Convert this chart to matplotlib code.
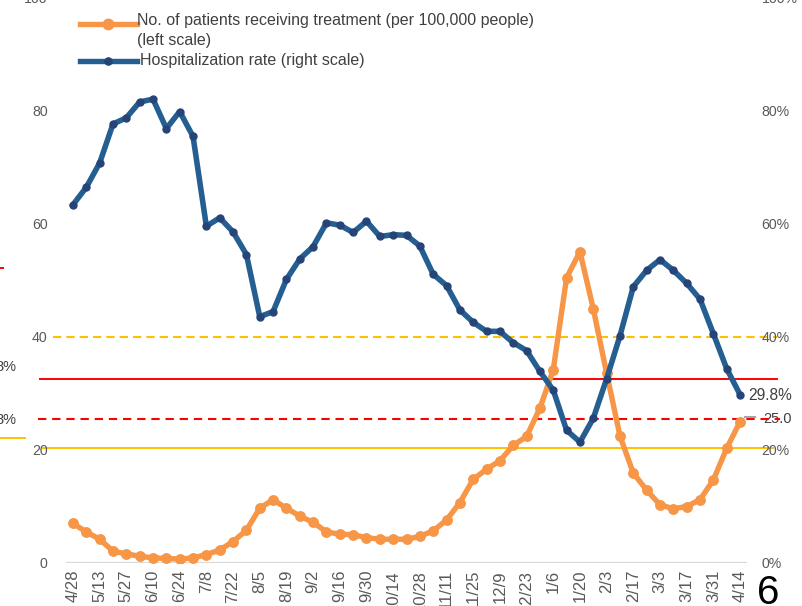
import matplotlib
matplotlib.use("Agg")
import matplotlib.pyplot as plt
from matplotlib.lines import Line2D

plt.rcParams['font.family'] = ['Liberation Sans', 'DejaVu Sans']

# weekly dates (labels shown every other week)
dates = ["4/28", "5/6", "5/13", "5/20", "5/27", "6/3", "6/10", "6/17", "6/24", "7/1",
         "7/8", "7/15", "7/22", "7/29", "8/5", "8/12", "8/19", "8/26", "9/2", "9/9",
         "9/16", "9/23", "9/30", "10/7", "10/14", "10/21", "10/28", "11/4", "11/11", "11/18",
         "11/25", "12/2", "12/9", "12/16", "12/23", "12/30", "1/6", "1/13", "1/20", "1/27",
         "2/3", "2/10", "2/17", "2/24", "3/3", "3/10", "3/17", "3/24", "3/31", "4/7", "4/14"]

# patients receiving treatment per 100,000 people (left scale)
patients = [7.0, 5.5, 4.2, 2.1, 1.6, 1.2, 0.9, 0.8, 0.7, 0.9,
            1.5, 2.3, 3.8, 5.8, 9.7, 11.2, 9.7, 8.3, 7.2, 5.5,
            5.1, 5.0, 4.5, 4.2, 4.2, 4.2, 4.7, 5.7, 7.6, 10.7,
            14.8, 16.6, 18.1, 20.8, 22.4, 27.4, 34.2, 50.5, 55.1, 45.0,
            33.6, 22.5, 15.9, 12.9, 10.3, 9.6, 10.0, 11.2, 14.7, 20.3, 25.0]

# hospitalization rate, % (right scale)
hosp_rate = [63.4, 66.5, 70.8, 77.7, 78.8, 81.6, 82.1, 76.9, 79.9, 75.5,
             59.6, 61.1, 58.6, 54.6, 43.6, 44.5, 50.2, 53.8, 56.0, 60.2,
             59.8, 58.5, 60.5, 57.8, 58.1, 58.0, 56.1, 51.1, 49.1, 44.8,
             42.6, 41.0, 41.0, 39.0, 37.6, 33.9, 30.6, 23.5, 21.4, 25.6,
             32.6, 40.2, 48.9, 51.8, 53.7, 51.8, 49.5, 46.7, 40.6, 34.4, 29.8]

left_ticks = [0, 20, 40, 60, 80, 100]

ORANGE = "#F79646"
BLUE = "#255E91"
BLUE_MK = "#264478"
YELLOW = "#FFC000"
RED = "#FF0000"
TICK_COL = "#595959"
TEXT_COL = "#404040"

W, H = 802, 606
def fx(x):
    return x / W
def fy(y):
    return 1 - y / H

fig = plt.figure(figsize=(8.02, 6.06), dpi=100)
ax = fig.add_axes([fx(66.3), fy(563), 680.4 / W, 565 / H])
ax2 = ax.twinx()

xs = list(range(len(dates)))
ax.set_xlim(-0.5, len(dates) - 0.5)
ax.set_ylim(0, 100)
ax2.set_ylim(0, 100)

# threshold lines (extend past the plot area)
ax.axhline(40, xmin=-0.0195, xmax=1.0445, color=YELLOW, lw=1.5, dashes=(4, 2.4), clip_on=False, zorder=1.5)
ax.axhline(32.5, xmin=-0.0387, xmax=1.0445, color=RED, lw=1.4, clip_on=False, zorder=1.5)
ax.axhline(25.5, xmin=-0.0416, xmax=1.049, color=RED, lw=1.5, dashes=(4, 2.8), clip_on=False, zorder=1.5)
ax.axhline(20.3, xmin=-0.034, xmax=1.0386, color=YELLOW, lw=1.4, clip_on=False, zorder=1.5)

ax.plot(xs, patients, color=ORANGE, lw=3.9, marker="o", ms=6.8, mfc=ORANGE, mec=ORANGE, zorder=3)
ax2.plot(xs, hosp_rate, color=BLUE, lw=4.0, marker="o", ms=5.0, mfc=BLUE_MK, mec=BLUE_MK, zorder=3)

for a in (ax, ax2):
    for s in ("top", "left", "right", "bottom"):
        a.spines[s].set_visible(False)
ax.axhline(0, color="#D9D9D9", lw=1.6, zorder=1)

ax.set_yticks(left_ticks)
ax.set_yticklabels([str(v) for v in left_ticks])
ax2.set_yticks(left_ticks)
ax2.set_yticklabels([f"{v}%" for v in left_ticks])
ax.tick_params(axis="y", length=0, pad=13.5, labelsize=10.2, labelcolor=TICK_COL)
ax2.tick_params(axis="y", length=0, pad=10.8, labelsize=10.2, labelcolor=TICK_COL)

ax.set_xticks(xs[::2])
ax.set_xticklabels(dates[::2], rotation=90, va="top", ha="center")
ax.tick_params(axis="x", length=0, pad=5, labelsize=12, labelcolor=TICK_COL)

# legend drawn by hand
for y, col, mcol, ms in ((24, ORANGE, ORANGE, 7.5), (61, BLUE, BLUE_MK, 5.2)):
    fig.add_artist(Line2D([fx(80), fx(137)], [fy(y), fy(y)], transform=fig.transFigure,
                          color=col, lw=3.9))
    fig.add_artist(Line2D([fx(108)], [fy(y)], transform=fig.transFigure, marker="o",
                          ms=ms, color=mcol, lw=0))
fig.text(fx(137), fy(20), "No. of patients receiving treatment (per 100,000 people)",
         fontsize=11.5, color=TEXT_COL, va="center", ha="left")
fig.text(fx(137), fy(40), "(left scale)", fontsize=11.5, color=TEXT_COL, va="center", ha="left")
fig.text(fx(140), fy(61), "Hospitalization rate (right scale)", fontsize=11.5, color=TEXT_COL,
         va="center", ha="left")

# end-point labels
fig.text(fx(748), fy(395), f"{hosp_rate[-1]:.1f}%", fontsize=11.2, color=TEXT_COL, va="center", ha="left")
fig.add_artist(Line2D([fx(745), fx(755)], [fy(417), fy(417)], transform=fig.transFigure,
                      color="#A6A6A6", lw=1.5))
ax.text(fx(763), fy(419), f"{patients[-1]:.1f}", transform=fig.transFigure, fontsize=10.5,
        color=TEXT_COL, va="center", ha="left", zorder=1)

# fragments from outside the crop on the left
fig.text(fx(16), fy(367), "8%", fontsize=10.5, color=TEXT_COL, va="center", ha="right")
fig.text(fx(16), fy(420), "8%", fontsize=10.5, color=TEXT_COL, va="center", ha="right")
fig.add_artist(Line2D([fx(0), fx(25)], [fy(438), fy(438)], transform=fig.transFigure,
                      color=YELLOW, lw=1.4))
fig.add_artist(Line2D([fx(0), fx(3)], [fy(268), fy(268)], transform=fig.transFigure,
                      color=RED, lw=1.4))

# page number
fig.text(fx(757), fy(604), "6", fontsize=29, color="black", va="baseline", ha="left")

fig.savefig("out.png", dpi=100)
